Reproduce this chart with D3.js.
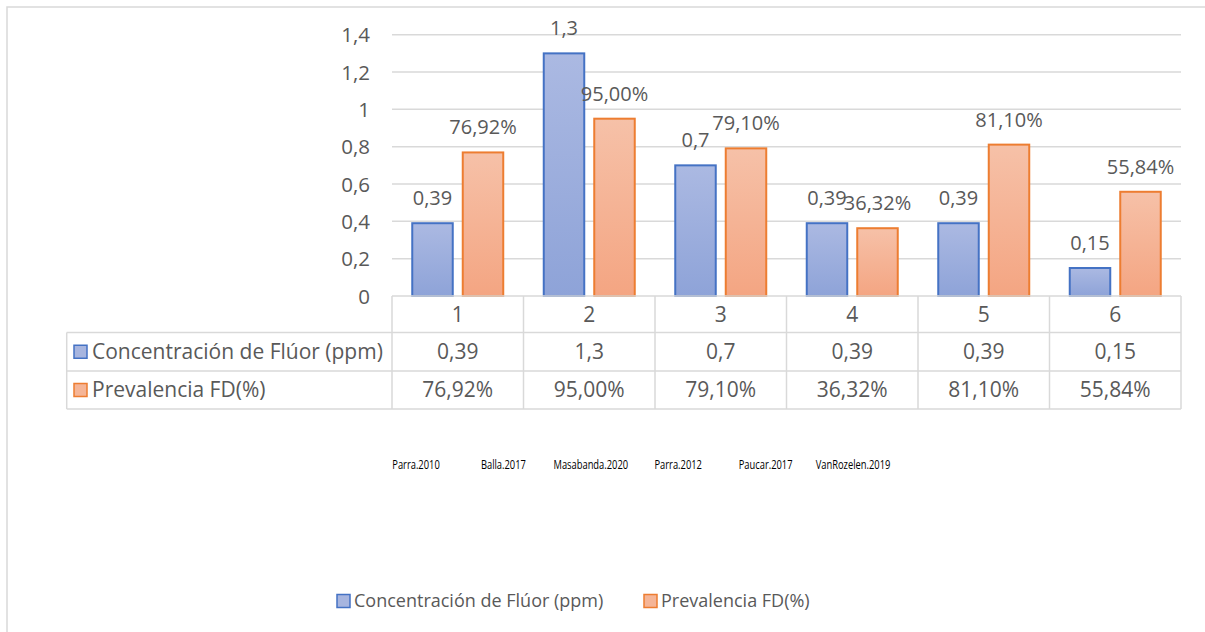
<!DOCTYPE html>
<html>
<head>
<meta charset="utf-8">
<script src="https://cdn.jsdelivr.net/npm/d3@7"></script>
<style>
  html, body { margin: 0; padding: 0; background: #fff; overflow: hidden; }
  svg { display: block; }
</style>
</head>
<body>
<svg id="chart" width="1205" height="632"></svg>
<script>
// ---- data ----
const categories = ["1", "2", "3", "4", "5", "6"];
const seriesNames = ["Concentración de Flúor (ppm)", "Prevalencia FD(%)"];
const fluor = [0.39, 1.3, 0.7, 0.39, 0.39, 0.15];
const prevalencia = [0.7692, 0.95, 0.791, 0.3632, 0.811, 0.5584];
const fluorLabels = ["0,39", "1,3", "0,7", "0,39", "0,39", "0,15"];
const prevLabels = ["76,92%", "95,00%", "79,10%", "36,32%", "81,10%", "55,84%"];
const yTicks = [0, 0.2, 0.4, 0.6, 0.8, 1, 1.2, 1.4];
const yTickLabels = ["0", "0,2", "0,4", "0,6", "0,8", "1", "1,2", "1,4"];
const studyNames = ["Parra.2010", "Balla.2017", "Masabanda.2020", "Parra.2012", "Paucar.2017", "VanRozelen.2019"];

// ---- styles ----
const grey = "#595959";
const gridColor = "#d9d9d9";
const font = "'Open Sans', 'Noto Sans', sans-serif";
const fs = "20px";
const fsTable = "21px";
const colors = [
  { stroke: "#4472c4", top: "#abb9e2", bottom: "#8ea3d8", sw: "#a7b5df" },
  { stroke: "#ed7d31", top: "#f6c1a8", bottom: "#f4a582", sw: "#f5b597" }
];

const svg = d3.select("#chart");
const defs = svg.append("defs");
colors.forEach((c, i) => {
  const g = defs.append("linearGradient").attr("id", "grad" + i)
    .attr("x1", 0).attr("y1", 0).attr("x2", 0).attr("y2", 1);
  g.append("stop").attr("offset", "0%").attr("stop-color", c.top);
  g.append("stop").attr("offset", "100%").attr("stop-color", c.bottom);
});

// outer border (top and left edges visible)
svg.append("path").attr("d", "M7,640 L7,7 L1220,7")
  .attr("fill", "none").attr("stroke", gridColor).attr("stroke-width", 1.5);

const left = 392, right = 1181, y0 = 296, yTop = 34.7;
const x = d3.scaleBand().domain(categories).range([left, right]).padding(0);
const x1 = d3.scaleBand().domain([0, 1]).range([0, x.bandwidth()])
  .paddingInner(0.198).paddingOuter(0.401);
const y = d3.scaleLinear().domain([0, 1.4]).range([y0, yTop]);

// gridlines
svg.append("g").selectAll("line").data(yTicks.slice(1)).join("line")
  .attr("x1", left).attr("x2", right)
  .attr("y1", d => y(d)).attr("y2", d => y(d))
  .attr("stroke", gridColor).attr("stroke-width", 1.5);

// y axis labels
const yAxis = d3.axisLeft(y).tickValues(yTicks)
  .tickFormat((d, i) => yTickLabels[i]).tickSize(0).tickPadding(0);
const gy = svg.append("g").attr("transform", `translate(370,0)`).call(yAxis);
gy.select(".domain").remove();
gy.selectAll("text").attr("fill", grey).style("font-family", font).style("font-size", "20.5px")
  .attr("dy", "0.35em");

// bars
const series = [fluor, prevalencia];
const labels = [fluorLabels, prevLabels];
series.forEach((vals, s) => {
  const g = svg.append("g");
  g.selectAll("rect").data(vals).join("rect")
    .attr("x", (d, i) => x(categories[i]) + x1(s))
    .attr("width", x1.bandwidth())
    .attr("y", d => y(d))
    .attr("height", d => y(0) - y(d))
    .attr("fill", `url(#grad${s})`)
    .attr("stroke", colors[s].stroke).attr("stroke-width", 2);
  g.selectAll("text").data(vals).join("text")
    .attr("x", (d, i) => x(categories[i]) + x1(s) + x1.bandwidth() / 2)
    .attr("y", d => y(d) - 18)
    .attr("text-anchor", "middle")
    .attr("fill", grey).style("font-family", font).style("font-size", fs)
    .text((d, i) => labels[s][i]);
});

// data table
const tableLeft = 66.7;
const rowEdges = [296, 332.5, 371, 409];
const tg = svg.append("g");
const lineAttrs = sel => sel.attr("stroke", gridColor).attr("stroke-width", 1.5).attr("fill", "none");
tg.append("line").attr("x1", left).attr("x2", right).attr("y1", rowEdges[0]).attr("y2", rowEdges[0]).call(lineAttrs);
[1, 2, 3].forEach(r => {
  tg.append("line").attr("x1", tableLeft).attr("x2", right)
    .attr("y1", rowEdges[r]).attr("y2", rowEdges[r]).call(lineAttrs);
});
categories.concat(["end"]).forEach((c, i) => {
  const xx = i < categories.length ? x(c) : right;
  tg.append("line").attr("x1", xx).attr("x2", xx)
    .attr("y1", rowEdges[0]).attr("y2", rowEdges[3]).call(lineAttrs);
});
tg.append("line").attr("x1", tableLeft).attr("x2", tableLeft)
  .attr("y1", rowEdges[1]).attr("y2", rowEdges[3]).call(lineAttrs);

// header row
tg.selectAll("text.hdr").data(categories).join("text").attr("class", "hdr")
  .attr("x", d => x(d) + x.bandwidth() / 2)
  .attr("y", (rowEdges[0] + rowEdges[1]) / 2).attr("dy", "0.35em")
  .attr("text-anchor", "middle").attr("fill", grey)
  .style("font-family", font).style("font-size", fsTable).text(d => d);

// data rows
labels.forEach((labs, s) => {
  const cy = (rowEdges[s + 1] + rowEdges[s + 2]) / 2;
  tg.append("g").selectAll("text").data(labs).join("text")
    .attr("x", (d, i) => x(categories[i]) + x.bandwidth() / 2)
    .attr("y", cy).attr("dy", "0.35em")
    .attr("text-anchor", "middle").attr("fill", grey)
    .style("font-family", font).style("font-size", fsTable).text(d => d);
  tg.append("rect").attr("x", 74).attr("y", cy - 6.5).attr("width", 13).attr("height", 13)
    .attr("fill", colors[s].sw).attr("stroke", colors[s].stroke).attr("stroke-width", 1.5);
  tg.append("text").attr("x", 92).attr("y", cy).attr("dy", "0.35em")
    .attr("fill", grey).style("font-family", font).style("font-size", fsTable)
    .text(seriesNames[s]);
});

// study names (condensed, like Calibri)
const xs = d3.scalePoint().domain(studyNames).range([416, 853]);
svg.append("g").selectAll("text").data(studyNames).join("text")
  .attr("transform", d => `translate(${xs(d)},464) scale(0.72,1)`)
  .attr("dy", "0.35em")
  .attr("text-anchor", "middle").attr("fill", "#000")
  .style("font-family", font).style("font-size", "13px")
  .text(d => d);

// bottom legend
const legendX = [337, 644];
const lg = svg.append("g");
seriesNames.forEach((n, s) => {
  lg.append("rect").attr("x", legendX[s]).attr("y", 601 - 6.5).attr("width", 13).attr("height", 13)
    .attr("fill", colors[s].sw).attr("stroke", colors[s].stroke).attr("stroke-width", 1.5);
  lg.append("text").attr("x", legendX[s] + 17).attr("y", 601).attr("dy", "0.35em")
    .attr("fill", grey).style("font-family", font).style("font-size", "18px").text(n);
});
</script>
</body>
</html>
